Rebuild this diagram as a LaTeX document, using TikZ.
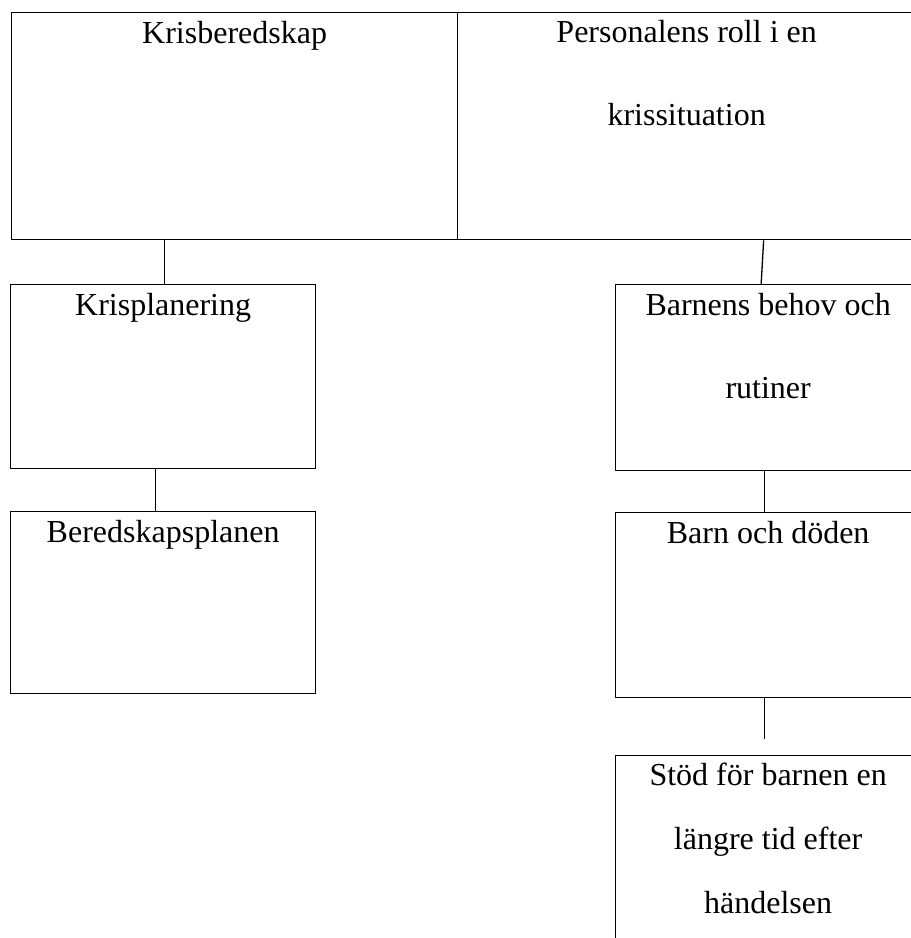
\documentclass[tikz,border=0pt]{standalone}
\usepackage{fontspec}
\setmainfont{Liberation Serif}
\begin{document}
\begin{tikzpicture}[x=1pt,y=-1pt,
  box/.style={draw,line width=1.3pt,anchor=north west,inner sep=0pt,rectangle},
  lbl/.style={anchor=base,inner sep=0pt,align=center,font=\fontsize{32}{83}\selectfont},
  lblnarrow/.style={lbl,font=\fontsize{32}{64}\selectfont},
  link/.style={line width=1.3pt}]
\useasboundingbox (0,0) rectangle (911,938);
\clip (0,0) rectangle (911,938);
% boxes
\node[box,minimum width=446pt,minimum height=227pt] (kb) at (11,12) {};
\node[box,minimum width=458pt,minimum height=227pt] (pr) at (457,12) {};
\node[box,minimum width=305pt,minimum height=184pt] (kp) at (10,284) {};
\node[box,minimum width=305pt,minimum height=182pt] (bp) at (10,511) {};
\node[box,minimum width=305pt,minimum height=186pt] (bb) at (615,284) {};
\node[box,minimum width=305pt,minimum height=185pt] (bd) at (615,512) {};
\node[box,minimum width=305pt,minimum height=260pt] (st) at (615,755) {};
% labels (base anchor = baseline of the last line)
\node[lbl] (tkb) at ([yshift=-31pt]kb.north) {Krisberedskap};
\node[lbl] (tpr) at ([yshift=-113pt]pr.north) {Personalens roll i en\\krissituation};
\node[lbl] (tkp) at ([yshift=-31pt]kp.north) {Krisplanering};
\node[lbl] (tbp) at ([yshift=-31pt]bp.north) {Beredskapsplanen};
\node[lbl] (tbb) at ([yshift=-114pt]bb.north) {Barnens behov och\\rutiner};
\node[lbl] (tbd) at ([yshift=-31pt]bd.north) {Barn och döden};
\node[lblnarrow] (tst) at ([yshift=-158pt]st.north) {Stöd för barnen en\\längre tid efter\\händelsen};
% connectors
\coordinate (fe) at ([xshift=-4pt,yshift=-41pt]bd.south);
\draw[link] (kp.north) ++(1.5pt,0) coordinate (kpc) -- (kpc |- kb.south);
\draw[link] ([xshift=77pt]pr.south) -- ([xshift=-7pt]bb.north);
\draw[link] ([xshift=-7.5pt]kp.south) -- ([xshift=-7.5pt]bp.north);
\draw[link] ([xshift=-4pt]bb.south) -- ([xshift=-4pt]bd.north);
\draw[link] ([xshift=-4pt]bd.south) -- (fe);
\end{tikzpicture}
\end{document}
